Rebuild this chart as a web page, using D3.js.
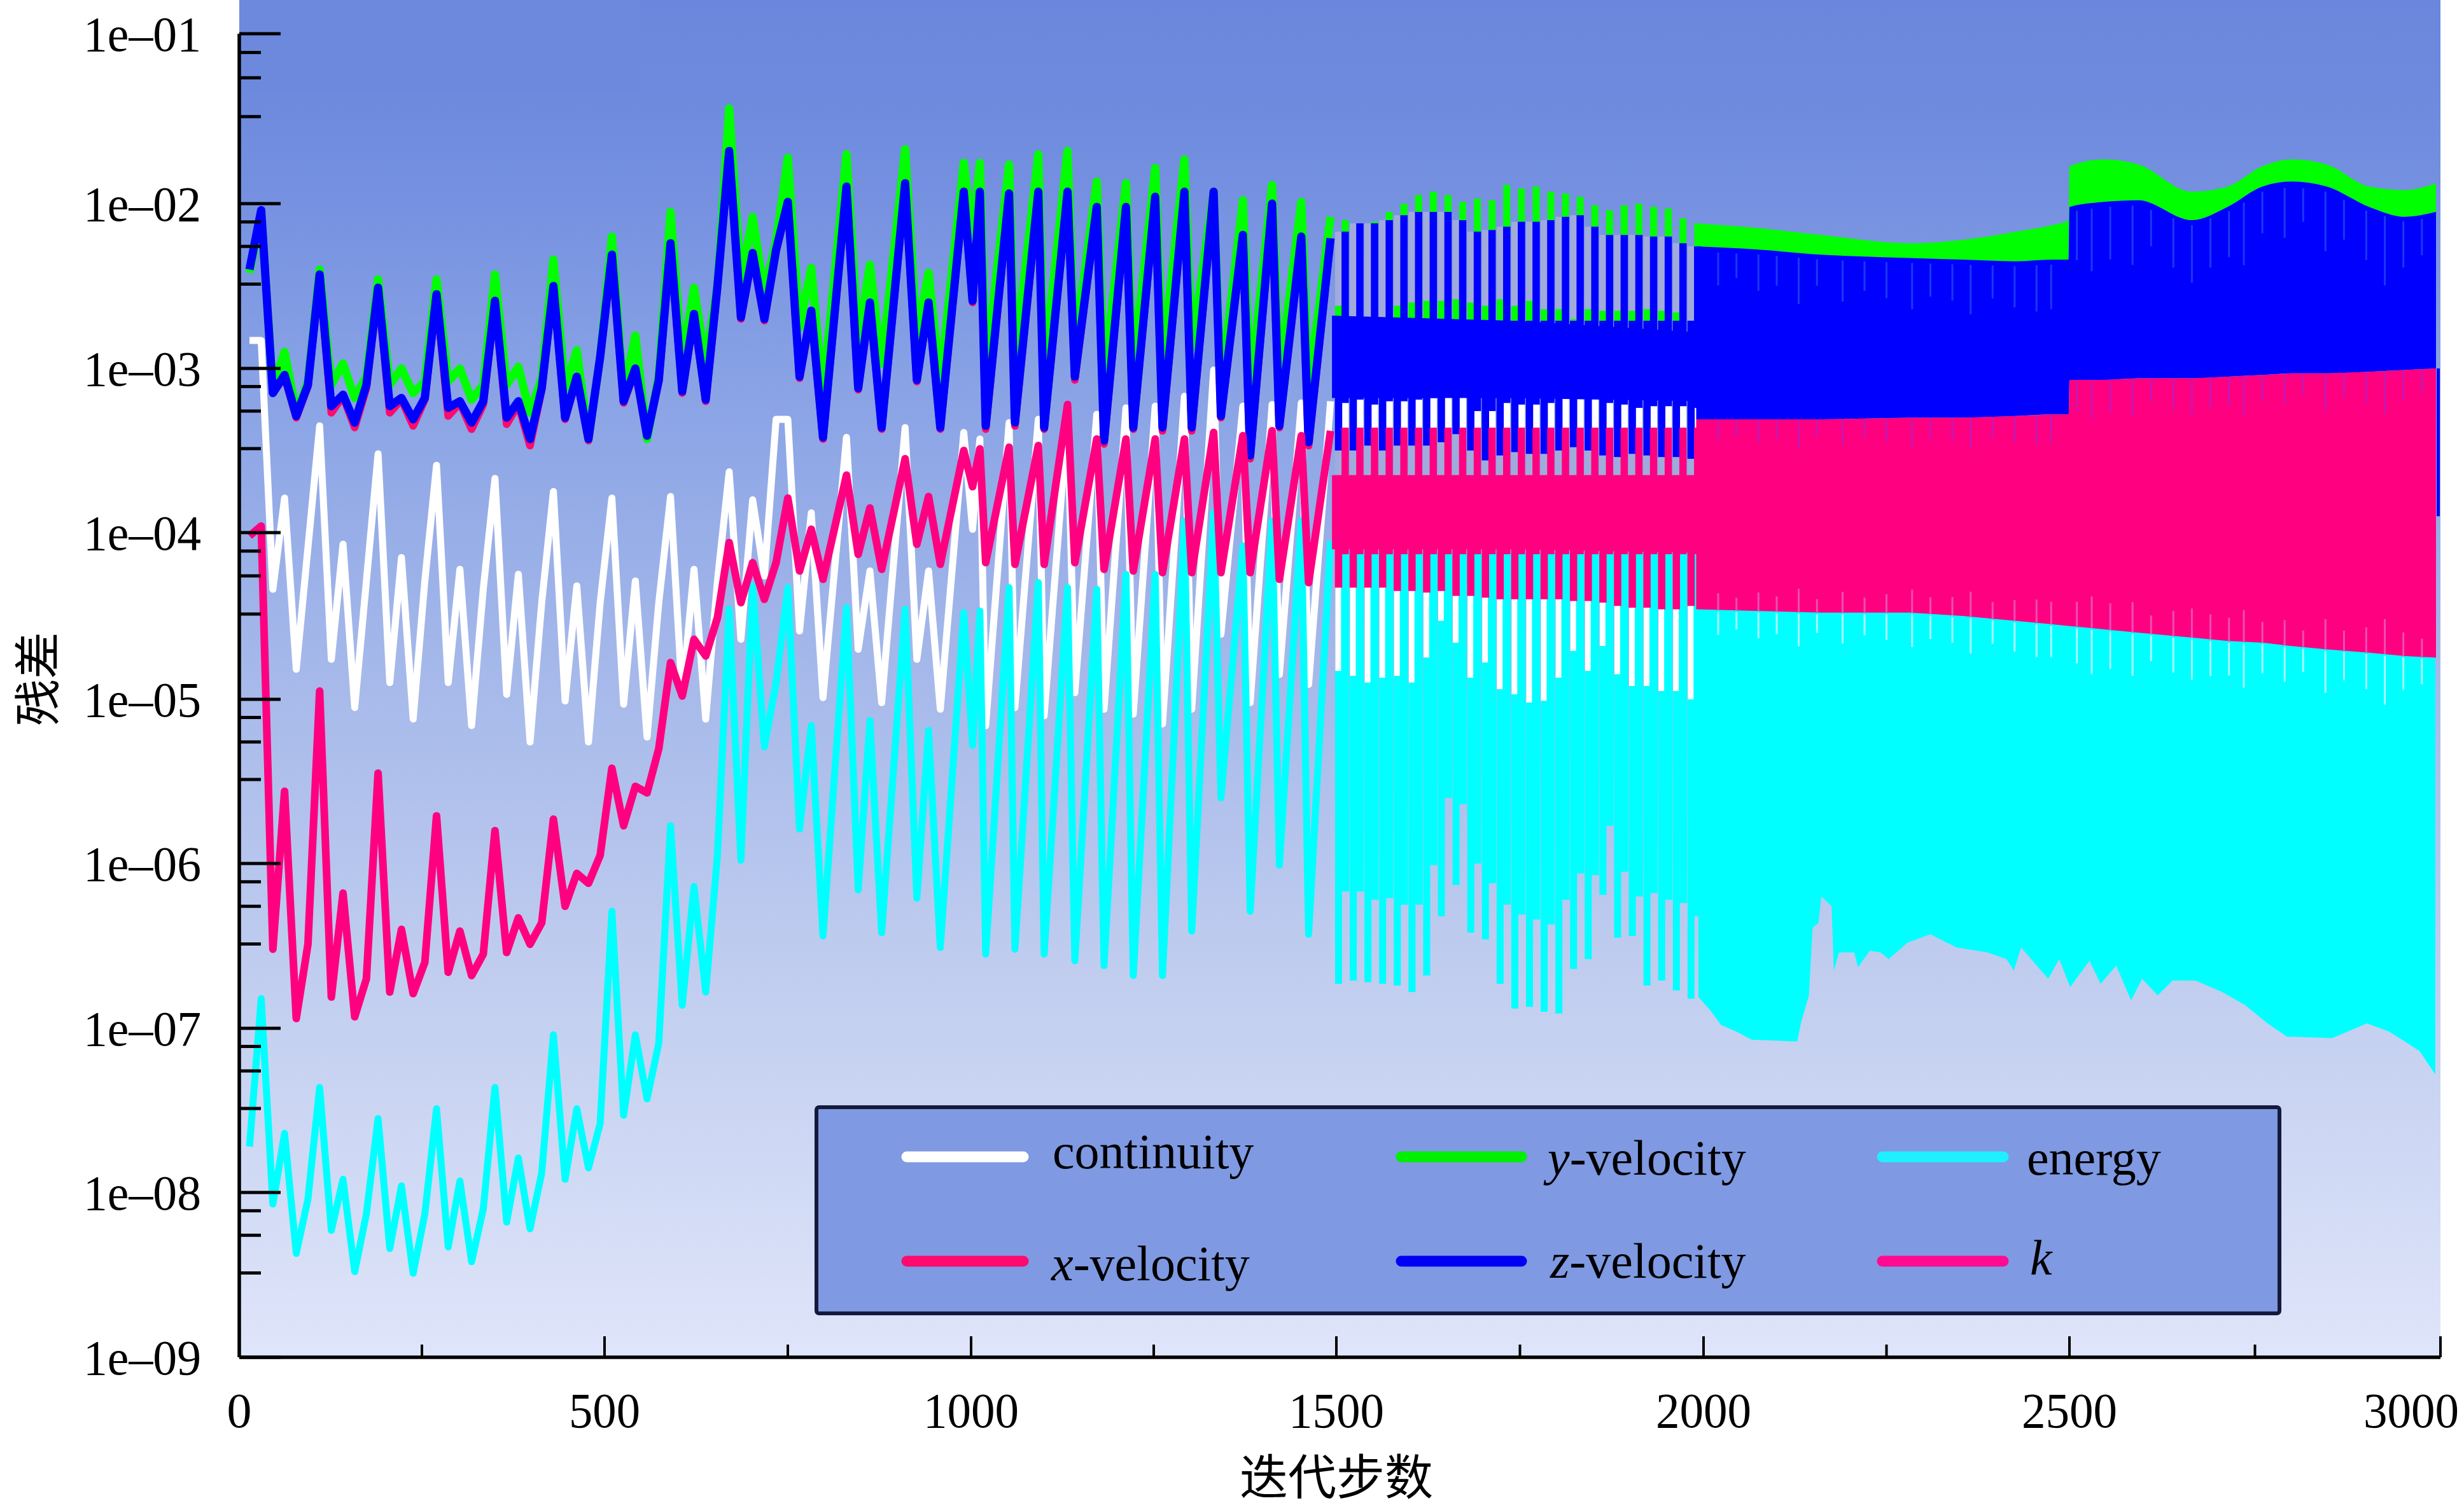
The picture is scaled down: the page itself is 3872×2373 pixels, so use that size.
<!DOCTYPE html>
<html>
<head>
<meta charset="utf-8">
<script src="https://cdn.jsdelivr.net/npm/d3@7"></script>
<style>
html,body{margin:0;padding:0;background:#fff}
svg{display:block}
</style>
</head>
<body>
<svg id="chart" width="3872" height="2373"></svg>
<script>
// ---------- tick labels / categories ----------
const xMajorTicks = [0, 500, 1000, 1500, 2000, 2500, 3000];
const xMinorTicks = [250, 750, 1250, 1750, 2250, 2750];
const yMajorTicks = [1e-1, 1e-2, 1e-3, 1e-4, 1e-5, 1e-6, 1e-7, 1e-8, 1e-9];
const yMinorMantissas = [3.25, 5.5, 7.75];
const xTitle = "迭代步数";
const yTitle = "残差";

// ---------- sampled part of the history: iteration and log10(residual) ----------
const iters = [14,30,46,62,78,94,110,126,142,158,174,190,206,222,238,254,270,286,302,318,334,350,366,382,398,414,430,446,462,478,494,510,526,542,558,574,590,606,622,638,654,670,686,702,718,734,
  750,766,782,798,830,846,862,878,910,926,942,958,990,1002,1012,1020,1052,1060,1092,1100,1132,1142,1172,1182,1212,1222,1252,1262,1292,1302,1332,1342,1372,1382,1412,1422,1452,1462,1492];

const continuity = [-2.83,-2.83,-4.34,-3.79,-4.82,-4.09,-3.35,-4.76,-4.07,-5.05,-4.29,-3.52,-4.90,-4.15,-5.12,-4.29,-3.59,-4.90,-4.22,-5.16,-4.34,-3.67,-4.97,-4.25,-5.26,-4.42,-3.75,-5.01,-4.32,-5.26,-4.42,-3.79,-5.03,-4.29,-5.23,-4.42,-3.78,-4.98,-4.22,-5.12,-4.29,-3.63,-4.64,-3.80,-4.26,-3.31,
  -3.31,-4.59,-3.88,-4.99,-3.42,-4.70,-4.23,-5.02,-3.36,-4.76,-4.23,-5.06,-3.39,-3.98,-3.43,-5.16,-3.33,-5.05,-3.31,-5.10,-3.30,-4.96,-3.28,-5.06,-3.24,-5.09,-3.23,-5.15,-3.17,-5.06,-3.01,-4.61,-3.23,-5.02,-3.22,-4.85,-3.21,-4.91,-3.20];

const zVelocity = [-2.40,-2.04,-3.15,-3.04,-3.29,-3.10,-2.43,-3.23,-3.16,-3.33,-3.10,-2.51,-3.23,-3.18,-3.31,-3.18,-2.55,-3.24,-3.20,-3.33,-3.20,-2.59,-3.30,-3.20,-3.43,-3.12,-2.50,-3.30,-3.05,-3.43,-2.93,-2.31,-3.20,-3.00,-3.41,-3.07,-2.24,-3.14,-2.67,-3.19,-2.50,-1.69,-2.69,-2.30,-2.70,-2.28,
  -1.99,-3.05,-2.65,-3.42,-1.90,-3.12,-2.60,-3.36,-1.88,-3.07,-2.60,-3.36,-1.93,-2.59,-1.93,-3.35,-1.94,-3.33,-1.93,-3.36,-1.93,-3.05,-2.02,-3.44,-2.02,-3.36,-1.96,-3.36,-1.93,-3.36,-1.93,-3.29,-2.19,-3.53,-2.00,-3.35,-2.20,-3.45,-2.21];

const yVelocity = [-2.42,-2.06,-3.12,-2.90,-3.27,-3.08,-2.40,-3.10,-2.97,-3.18,-3.05,-2.46,-3.10,-3.00,-3.15,-3.08,-2.46,-3.08,-3.00,-3.19,-3.10,-2.43,-3.10,-2.99,-3.27,-3.06,-2.34,-3.12,-2.89,-3.43,-2.93,-2.20,-3.15,-2.80,-3.43,-3.04,-2.05,-2.96,-2.51,-2.96,-2.50,-1.44,-2.47,-2.08,-2.54,-2.23,
  -1.73,-2.75,-2.39,-3.15,-1.71,-2.83,-2.37,-2.97,-1.68,-2.80,-2.42,-3.07,-1.76,-2.19,-1.76,-3.00,-1.77,-2.95,-1.71,-3.00,-1.69,-2.87,-1.87,-3.05,-1.88,-3.00,-1.79,-2.95,-1.74,-2.87,-1.93,-3.12,-1.98,-3.12,-1.89,-3.05,-1.99,-3.12,-2.08];

const xVelocity = [-2.40,-2.04,-3.15,-3.05,-3.30,-3.11,-2.44,-3.27,-3.17,-3.36,-3.12,-2.52,-3.27,-3.19,-3.35,-3.19,-2.56,-3.29,-3.21,-3.37,-3.22,-2.60,-3.34,-3.22,-3.47,-3.13,-2.51,-3.31,-3.06,-3.44,-2.94,-2.32,-3.21,-3.01,-3.42,-3.08,-2.25,-3.15,-2.68,-3.20,-2.51,-1.70,-2.70,-2.31,-2.71,-2.29,
  -2.00,-3.06,-2.66,-3.43,-1.91,-3.13,-2.61,-3.37,-1.89,-3.08,-2.61,-3.37,-1.94,-2.60,-1.94,-3.37,-1.95,-3.35,-1.94,-3.37,-1.94,-3.07,-2.03,-3.46,-2.03,-3.37,-1.97,-3.38,-1.94,-3.38,-1.94,-3.30,-2.20,-3.55,-2.01,-3.36,-2.21,-3.47,-2.22];

const energy = [-7.72,-6.82,-8.07,-7.64,-8.37,-8.04,-7.36,-8.23,-7.92,-8.48,-8.13,-7.55,-8.34,-7.96,-8.49,-8.13,-7.49,-8.33,-7.93,-8.42,-8.10,-7.36,-8.18,-7.79,-8.22,-7.88,-7.04,-7.92,-7.49,-7.85,-7.58,-6.29,-7.53,-7.04,-7.43,-7.09,-5.77,-6.86,-6.14,-6.78,-5.95,-4.46,-5.98,-4.32,-5.29,-4.90,
  -4.33,-5.79,-5.16,-6.44,-4.45,-6.16,-5.13,-6.42,-4.46,-6.21,-5.19,-6.51,-4.48,-5.28,-4.47,-6.55,-4.33,-6.52,-4.30,-6.55,-4.33,-6.59,-4.34,-6.62,-4.25,-6.68,-4.25,-6.68,-3.93,-6.41,-3.88,-5.60,-4.08,-6.29,-3.93,-6.01,-3.93,-6.43,-4.05];

const kResidual = [-4.02,-3.96,-6.52,-5.56,-6.94,-6.49,-4.95,-6.81,-6.18,-6.93,-6.70,-5.45,-6.78,-6.40,-6.79,-6.60,-5.71,-6.66,-6.41,-6.68,-6.55,-5.80,-6.54,-6.33,-6.49,-6.36,-5.73,-6.26,-6.06,-6.12,-5.95,-5.42,-5.77,-5.53,-5.57,-5.30,-4.78,-4.98,-4.64,-4.74,-4.51,-4.06,-4.42,-4.18,-4.40,-4.18,
  -3.79,-4.23,-3.98,-4.28,-3.65,-4.13,-3.85,-4.22,-3.55,-4.07,-3.78,-4.19,-3.50,-3.72,-3.49,-4.18,-3.48,-4.19,-3.47,-4.19,-3.22,-4.18,-3.43,-4.22,-3.43,-4.23,-3.43,-4.24,-3.43,-4.24,-3.39,-4.24,-3.41,-4.24,-3.38,-4.28,-3.41,-4.30,-3.38];

// ---------- 1500-2000: two interleaved spike families ----------
const spikeItersA = [1512,1532,1552,1572,1592,1612,1632,1652,1672,1692,1712,1732,1752,1772,1792,1812,1832,1852,1872,1892,1912,1932,1952,1972,1992];
const spikeItersB = [1503,1523,1543,1563,1583,1603,1623,1643,1663,1683,1703,1723,1743,1763,1783,1803,1823,1843,1863,1883,1903,1923,1943,1963,1983];
const yTopsA = [-2.10,-2.12,-2.11,-2.05,-2.00,-1.95,-1.93,-1.95,-1.99,-1.97,-1.98,-1.89,-1.91,-1.90,-1.93,-1.94,-1.96,-2.01,-2.04,-2.01,-2.00,-2.02,-2.03,-2.09,-2.12];
const zTopsA = [-2.17,-2.12,-2.12,-2.10,-2.07,-2.05,-2.05,-2.05,-2.10,-2.17,-2.16,-2.14,-2.11,-2.11,-2.10,-2.08,-2.07,-2.14,-2.19,-2.19,-2.19,-2.20,-2.20,-2.24,-2.26];
const yStubsB = [-2.62,-2.70,-2.70,-2.70,-2.62,-2.60,-2.59,-2.59,-2.58,-2.60,-2.62,-2.58,-2.62,-2.59,-2.64,-2.64,-2.70,-2.64,-2.65,-2.65,-2.65,-2.64,-2.65,-2.66,-2.71];
const zBottomsB = [-3.50,-3.50,-3.47,-3.50,-3.47,-3.47,-3.47,-3.45,-3.40,-3.50,-3.56,-3.53,-3.51,-3.52,-3.52,-3.50,-3.48,-3.50,-3.53,-3.54,-3.52,-3.53,-3.54,-3.54,-3.55];
const contTopsA = [-3.21,-3.19,-3.22,-3.20,-3.20,-3.19,-3.18,-3.13,-3.17,-3.26,-3.26,-3.21,-3.22,-3.22,-3.21,-3.18,-3.12,-3.15,-3.21,-3.22,-3.24,-3.23,-3.23,-3.23,-3.24];
const contBottomsB = [-4.83,-4.86,-4.90,-4.87,-4.86,-4.90,-4.75,-4.53,-4.66,-4.87,-4.78,-4.94,-4.97,-5.02,-5.01,-4.87,-4.71,-4.83,-4.68,-4.85,-4.92,-4.92,-4.95,-4.95,-5.00];
const kBottomsB = [-4.33,-4.33,-4.33,-4.33,-4.35,-4.35,-4.36,-4.35,-4.38,-4.38,-4.39,-4.40,-4.40,-4.40,-4.40,-4.40,-4.41,-4.41,-4.42,-4.44,-4.45,-4.45,-4.46,-4.46,-4.44];
const energyBottomsA = [-6.17,-6.17,-6.22,-6.21,-6.25,-6.25,-6.01,-5.60,-5.64,-6.00,-6.12,-6.25,-6.31,-6.34,-6.37,-6.22,-6.06,-6.07,-5.77,-6.05,-6.20,-6.18,-6.22,-6.24,-6.32];
const energyBottomsB = [-6.73,-6.71,-6.72,-6.73,-6.74,-6.78,-6.68,-6.32,-6.13,-6.42,-6.46,-6.73,-6.88,-6.87,-6.90,-6.91,-6.64,-6.58,-6.19,-6.45,-6.44,-6.74,-6.71,-6.77,-6.82];

const coreIters = [1494, 1740, 1990];
const zCoreTop = [-2.68, -2.71, -2.78];
const zCoreBottom = [-3.18, -3.18, -3.20];
const kCoreTop = [-3.65, -3.65, -3.65];
const kCoreBottom = [-4.10, -4.10, -4.12];

// ---------- 2000-3000: solid envelopes ----------
const envIters = [1990,2078,2161,2282,2354,2427,2476,2499,2500,2546,2593,2665,2713,2760,2799,2847,2904,2952,2994];
const yEnvTop = [-2.12,-2.15,-2.19,-2.24,-2.22,-2.17,-2.13,-2.10,-1.78,-1.74,-1.77,-1.93,-1.90,-1.78,-1.74,-1.77,-1.90,-1.92,-1.88];
const zEnvTop = [-2.26,-2.28,-2.31,-2.33,-2.34,-2.35,-2.34,-2.34,-2.02,-1.99,-1.98,-2.10,-2.02,-1.90,-1.87,-1.90,-2.02,-2.08,-2.05];
const kEnvTop = [-3.31,-3.31,-3.31,-3.30,-3.30,-3.29,-3.28,-3.28,-3.07,-3.07,-3.06,-3.06,-3.05,-3.04,-3.03,-3.03,-3.02,-3.01,-3.00];
const kEnvBottom = [-4.46,-4.47,-4.48,-4.48,-4.50,-4.53,-4.55,-4.56,-4.56,-4.58,-4.60,-4.63,-4.65,-4.66,-4.68,-4.70,-4.72,-4.74,-4.75];
const energyEdgeIters = [1993,2009,2024,2045,2066,2128,2133,2144,2149,2157,2161,2175,2178,2185,2206,2211,2227,2242,2253,2279,2310,2346,2388,2414,2424,2434,2471,2486,2501,2527,2542,2563,2583,2598,2619,2639,2670,2706,2737,2767,2793,2854,2901,2931,2952,2972,2993];
const energyEdge = [-6.81,-6.89,-6.98,-7.02,-7.07,-7.08,-6.97,-6.80,-6.39,-6.36,-6.20,-6.26,-6.65,-6.54,-6.54,-6.63,-6.53,-6.54,-6.58,-6.48,-6.43,-6.51,-6.54,-6.58,-6.65,-6.51,-6.70,-6.58,-6.75,-6.59,-6.73,-6.62,-6.83,-6.70,-6.80,-6.71,-6.71,-6.78,-6.86,-6.97,-7.05,-7.06,-6.97,-7.02,-7.08,-7.14,-7.28];
// faint streaks inside the solid bands
const streakIters = [2020,2045,2075,2100,2130,2155,2190,2220,2250,2285,2310,2340,2365,2395,2425,2455,2475,2510,2530,2555,2585,2610,2640,2665,2690,2715,2735,2760,2790,2815,2845,2870,2900,2925,2950,2975];
const streakDepth = [0.20,0.15,0.22,0.18,0.28,0.16,0.25,0.18,0.22,0.28,0.20,0.22,0.30,0.20,0.25,0.28,0.27,0.30,0.38,0.32,0.36,0.22,0.30,0.35,0.30,0.28,0.38,0.25,0.30,0.20,0.36,0.24,0.30,0.42,0.28,0.22];

// ---------- legend ----------
const legendItems = [
  {name:"continuity", italic:"", rest:"continuity", color:"#ffffff", col:0, row:0},
  {name:"x-velocity", italic:"x", rest:"-velocity", color:"#ff0a6e", col:0, row:1},
  {name:"y-velocity", italic:"y", rest:"-velocity", color:"#00f000", col:1, row:0},
  {name:"z-velocity", italic:"z", rest:"-velocity", color:"#0000f5", col:1, row:1},
  {name:"energy", italic:"", rest:"energy", color:"#1ff0ff", col:2, row:0},
  {name:"k", italic:"k", rest:"", color:"#ff0a90", col:2, row:1}
];

const COLORS = {cont:"#ffffff", x:"#ff0a6e", y:"#00ff00", z:"#0000ff", e:"#00ffff", k:"#ff0080"};
const FONT = "'Liberation Serif','Times New Roman',serif";
const CJK = "'Noto Sans CJK SC','Noto Sans CJK JP',sans-serif";

const svg = d3.select("#chart");
const defs = svg.append("defs");
const grad = defs.append("linearGradient").attr("id","bg").attr("x1",0).attr("x2",0).attr("y1",0).attr("y2",1);
[[0,"#6a87dd"],[0.07,"#6d8ade"],[0.14,"#7590e0"],[0.28,"#88a2e5"],[0.5,"#a6b9ea"],[0.75,"#c4d0f0"],[1,"#dfe5fa"]].forEach(s=>grad.append("stop").attr("offset",s[0]).attr("stop-color",s[1]));

const x = d3.scaleLinear().domain(xMajorTicks).range([376,950,1526,2100,2677,3252,3835]);
const y = d3.scaleLog().domain(yMajorTicks).range([53,320,579,837,1099,1357,1616,1874,2133]);
const ly = v => y(Math.pow(10, v));

// plot background
svg.append("rect").attr("x",x(0)).attr("y",0).attr("width",x(3000)-x(0)).attr("height",y(1e-9)).attr("fill","url(#bg)");
svg.append("rect").attr("x",x(0)).attr("y",0).attr("width",629).attr("height",147).attr("fill","#6c89de");

const line = d3.line().x(d=>x(d[0])).y(d=>ly(d[1]));
const plot = svg.append("g");

function drawSeries(values, color, width){
  plot.append("path").attr("d", line(iters.map((t,i)=>[t,values[i]])))
    .attr("fill","none").attr("stroke",color).attr("stroke-width",width)
    .attr("stroke-linejoin","round").attr("stroke-linecap","butt");
}
function drawSpikes(its, from, to, color, width){
  its.forEach((t,i)=>{
    const a = typeof from==="number"?from:from[i], b = typeof to==="number"?to:to[i];
    plot.append("path").attr("d", line([[t,a],[t,b]]))
      .attr("fill","none").attr("stroke",color).attr("stroke-width",width);
  });
}
function drawBand(its, top, bottom, color, curve){
  const area = d3.area().x(d=>x(d[0])).y0(d=>ly(d[1])).y1(d=>ly(d[2])).curve(curve||d3.curveLinear);
  plot.append("path").attr("d", area(its.map((t,i)=>[t,top[i],bottom[i]]))).attr("fill",color);
}

// pale gaps between the spikes
drawSpikes(spikeItersB, zTopsA, -3.66, "#a0abdb", 11);

// continuity
drawSeries(continuity, COLORS.cont, 11);
drawSpikes(spikeItersA, contTopsA, -3.40, COLORS.cont, 11);
drawSpikes(spikeItersB, -4.30, contBottomsB, COLORS.cont, 10);

// x-velocity
drawSeries(xVelocity, COLORS.x, 12);

// y-velocity
drawSeries(yVelocity, COLORS.y, 13);
drawSpikes(spikeItersA, yTopsA, zTopsA, COLORS.y, 11);
drawSpikes(spikeItersB, yStubsB, -2.8, COLORS.y, 11);
drawBand(envIters, yEnvTop, zEnvTop, COLORS.y, d3.curveMonotoneX);

// z-velocity
drawSeries(zVelocity, COLORS.z, 13);
drawSpikes(spikeItersA, zTopsA, contTopsA, COLORS.z, 11.5);
drawSpikes(spikeItersB, zCoreTop[1], zBottomsB, COLORS.z, 11.5);
drawBand(coreIters, zCoreTop, zCoreBottom, COLORS.z);
drawBand(envIters, zEnvTop, kEnvTop, COLORS.z, d3.curveMonotoneX);
plot.append("path").attr("d", line([[2997,-3.0],[2997,-3.9]])).attr("fill","none").attr("stroke",COLORS.z).attr("stroke-width",5);

// energy
drawSeries(energy, COLORS.e, 11);
drawSpikes(spikeItersA, -4.12, energyBottomsA, COLORS.e, 13);
drawSpikes(spikeItersB, contBottomsB, energyBottomsB, COLORS.e, 11);
drawBand(energyEdgeIters, energyEdgeIters.map(()=> -4.4), energyEdge, COLORS.e);

// k
drawSeries(kResidual, COLORS.k, 12);
drawSpikes(spikeItersA, -3.36, -4.13, COLORS.k, 11.5);
drawSpikes(spikeItersB, kCoreTop[0], kBottomsB, COLORS.k, 11.5);
drawBand(coreIters, kCoreTop, kCoreBottom, COLORS.k);
drawBand(envIters, kEnvTop, kEnvBottom, COLORS.k);

// faint streaks
const zTopAt = d3.scaleLinear().domain(envIters).range(zEnvTop);
const kTopAt = d3.scaleLinear().domain(envIters).range(kEnvTop);
const kBotAt = d3.scaleLinear().domain(envIters).range(kEnvBottom);
streakIters.forEach((t,i)=>{
  const d = streakDepth[i];
  [[zTopAt(t)-0.03, zTopAt(t)-0.03-d, "#1b38f6"],
   [kTopAt(t)-0.01, kTopAt(t)-0.01-d*0.6, "#c418b4"],
   [kBotAt(t), kBotAt(t)+d*0.5, "#ea4fb6"],
   [kBotAt(t)-0.01, kBotAt(t)-0.01-d*0.7, "#aaf8ff"]].forEach(s=>{
    plot.append("path").attr("d", line([[t,s[0]],[t,s[1]]]))
      .attr("fill","none").attr("stroke",s[2]).attr("stroke-width",3);
  });
});

// axes
const yMinorTicks = [];
yMajorTicks.slice(1).forEach(d=>yMinorMantissas.forEach(m=>yMinorTicks.push(d*m)));
const fmtY = d => "1e–0" + Math.round(-Math.log10(d));

const axL = svg.append("g").attr("transform",`translate(${x(0)},0)`);
axL.call(d3.axisLeft(y).tickValues(yMajorTicks).tickSizeInner(-65).tickSizeOuter(0).tickPadding(60).tickFormat(fmtY).offset(0));
axL.append("g").call(d3.axisLeft(y).tickValues(yMinorTicks).tickSizeInner(-34).tickSizeOuter(0).tickFormat("").offset(0));
axL.selectAll("path.domain").attr("stroke","#000").attr("stroke-width",5);
axL.selectAll("line").attr("stroke","#000").attr("stroke-width",5);
axL.selectAll("text").attr("font-family",FONT).attr("font-size",78).attr("fill","#000")
  .attr("text-anchor","end").attr("dy","0.34em").attr("textLength",185).attr("lengthAdjust","spacingAndGlyphs");

const axB = svg.append("g").attr("transform",`translate(0,${y(1e-9)})`);
axB.call(d3.axisBottom(x).tickValues(xMajorTicks).tickSizeInner(-33).tickSizeOuter(0).tickPadding(0).tickFormat(d3.format("d")).offset(0));
axB.append("g").call(d3.axisBottom(x).tickValues(xMinorTicks).tickSizeInner(-20).tickSizeOuter(0).tickFormat("").offset(0));
axB.selectAll("path.domain").attr("stroke","#000").attr("stroke-width",5);
axB.selectAll("line").attr("stroke","#000").attr("stroke-width",4);
axB.selectAll(".tick text").filter(function(){return this.textContent!=="";})
  .attr("font-family",FONT).attr("font-size",78).attr("fill","#000")
  .attr("y",110).attr("dy",0)
  .attr("dx",d=>d===3000?-46:0)
  .each(function(d){
    const n=String(d).length;
    if(n>1) d3.select(this).attr("textLength",n===3?112:150).attr("lengthAdjust","spacingAndGlyphs");
  });

// axis titles
svg.append("text").attr("x",x(1500)).attr("y",2349).attr("text-anchor","middle")
  .attr("font-family",CJK).attr("font-size",76).attr("fill","#000").text(xTitle);
svg.append("text").attr("transform","translate(86,1067) rotate(-90)").attr("text-anchor","middle")
  .attr("font-family",CJK).attr("font-size",74).attr("fill","#000").text(yTitle);

// legend
const legend = svg.append("g");
legend.append("rect").attr("x",1283).attr("y",1740).attr("width",2299).attr("height",324)
  .attr("rx",4).attr("fill","#7f99e2").attr("stroke","#141a3c").attr("stroke-width",6);
const colLine = [[1425,1608],[2202,2391],[2958,3148]];
const rowLine = [1818,1982];
const textX = [[1654,1652],[2432,2436],[3185,3190]];
const textY = [[1836,2012],[1846,2008],[1846,2003]];
legendItems.forEach(it=>{
  legend.append("line").attr("x1",colLine[it.col][0]).attr("x2",colLine[it.col][1])
    .attr("y1",rowLine[it.row]).attr("y2",rowLine[it.row])
    .attr("stroke",it.color).attr("stroke-width",17).attr("stroke-linecap","round");
  const t = legend.append("text").attr("x",textX[it.col][it.row]).attr("y",textY[it.col][it.row])
    .attr("font-family",FONT).attr("font-size",78).attr("fill","#000");
  if(it.italic) t.append("tspan").attr("font-style","italic").text(it.italic);
  if(it.rest) t.append("tspan").text(it.rest);
});
</script>
</body>
</html>
